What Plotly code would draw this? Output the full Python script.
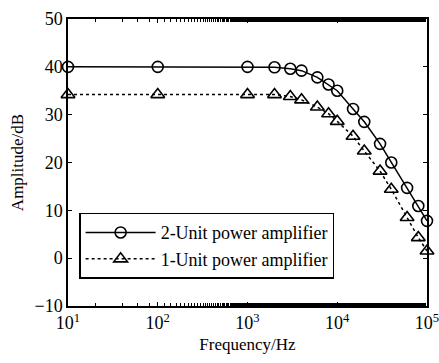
import plotly.graph_objects as go

freq = [10, 100, 1000, 2000, 3000, 4000, 6000, 8000, 10000, 15000, 20000,
        30000, 40000, 60000, 80000, 100000]
amp_2unit = [40, 40, 40, 39.9, 39.6, 39.2, 37.8, 36.3, 35.0, 31.2, 28.5,
             23.9, 20.0, 14.7, 10.9, 7.8]
amp_1unit = [34.2, 34.2, 34.2, 34.2, 33.8, 33.1, 31.6, 30.2, 28.6, 25.5, 22.4,
             18.2, 14.4, 8.5, 4.3, 1.5]
series_names = ["2-Unit power amplifier", "1-Unit power amplifier"]
x_tickvals = [10, 100, 1000, 10000, 100000]
x_ticktext = ["10<sup>1</sup>", "10<sup>2</sup>", "10<sup>3</sup>",
              "10<sup>4</sup>", "10<sup>5</sup>"]
y_tickvals = [-10, 0, 10, 20, 30, 40, 50]

FONT = "'Liberation Serif', 'Times New Roman', serif"

fig = go.Figure()
fig.add_trace(go.Scatter(
    x=freq, y=amp_2unit, name=series_names[0], mode="lines+markers",
    line=dict(color="black", width=1.5),
    marker=dict(symbol="circle-open", size=11, color="black",
                line=dict(width=1.6, color="black")),
    cliponaxis=False,
))
fig.add_trace(go.Scatter(
    x=freq, y=amp_1unit, name=series_names[1], mode="lines+markers",
    line=dict(color="black", width=1.5, dash="dot"),
    marker=dict(symbol="triangle-up-open", size=12, color="black",
                line=dict(width=1.6, color="black")),
    cliponaxis=False,
))

axis_common = dict(
    showline=True, linecolor="black", linewidth=1.5, mirror="allticks",
    ticks="inside", ticklen=4, tickcolor="black", tickwidth=1,
    showgrid=False, zeroline=False, automargin=False,
    ticklabeloverflow="allow",
    tickfont=dict(family=FONT, size=18, color="black"),
)

fig.update_xaxes(
    type="log", range=[1, 5], tickvals=x_tickvals, ticktext=x_ticktext,
    title=dict(text="Frequency/Hz", font=dict(family=FONT, size=17, color="black"),
               standoff=6),
    minor=dict(ticks="inside", ticklen=3, tickcolor="black", tickwidth=1,
               showgrid=False),
    **axis_common,
)
fig.update_yaxes(
    range=[-10, 50], tickvals=y_tickvals,
    title=dict(text="Amplitude/dB", font=dict(family=FONT, size=17, color="black"),
               standoff=7),
    **axis_common,
)

fig.update_layout(
    width=439, height=363,
    margin=dict(l=68, r=12, t=19, b=57),
    paper_bgcolor="white", plot_bgcolor="white",
    font=dict(family=FONT, size=18, color="black"),
    showlegend=True,
    legend=dict(x=0.031, y=0.325, xanchor="left", yanchor="top",
                bgcolor="white", bordercolor="black", borderwidth=1.5,
                font=dict(family=FONT, size=18, color="black"),
                tracegroupgap=0, itemwidth=70),
)

fig.write_html("out.html", config={"displayModeBar": False},
               post_script="document.body.style.margin='0';document.body.style.padding='0';")
